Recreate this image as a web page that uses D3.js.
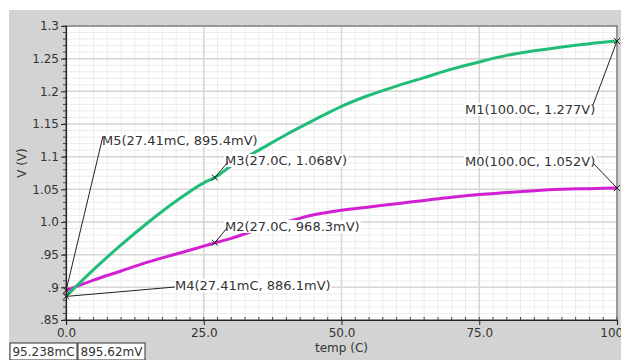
<html>
  <head>
    <title>V vs temp</title>
    <script src="https://d3js.org/d3.v7.min.js"></script>
    <style>
      body { margin: 0; background: #fff; }
      text { font-family: "DejaVu Sans", sans-serif; }
    </style>
  </head>
  <body>
    <script>
      // data
      const temps = [0, 5, 10, 15, 20, 25, 27, 30, 35, 40, 45, 50, 55, 60, 65, 70, 75, 80, 85, 90, 95, 100];
      const vGreen = [0.886, 0.927, 0.965, 1.0, 1.032, 1.06, 1.068, 1.086, 1.110, 1.134, 1.156, 1.177, 1.194, 1.208, 1.221, 1.234, 1.245, 1.255, 1.262, 1.268, 1.273, 1.277];
      const vMagenta = [0.895, 0.911, 0.925, 0.939, 0.951, 0.963, 0.968, 0.975, 0.989, 1.0, 1.011, 1.018, 1.023, 1.028, 1.033, 1.038, 1.042, 1.045, 1.048, 1.050, 1.051, 1.052];
      const xTicks = [0, 25, 50, 75, 100];
      const xTickLabels = ["0.0", "25.0", "50.0", "75.0", "100.0"];
      const yTicks = [0.85, 0.9, 0.95, 1.0, 1.05, 1.1, 1.15, 1.2, 1.25, 1.3];
      const yTickLabels = [".85", ".9", ".95", "1.0", "1.05", "1.1", "1.15", "1.2", "1.25", "1.3"];
      const markerLabels = ["M0(100.0C, 1.052V)", "M1(100.0C, 1.277V)", "M2(27.0C, 968.3mV)", "M3(27.0C, 1.068V)", "M4(27.41mC, 886.1mV)", "M5(27.41mC, 895.4mV)"];
      const markerX = [100, 100, 27, 27, 0.02741, 0.02741];
      const markerY = [1.052, 1.277, 0.9683, 1.068, 0.8861, 0.8954];
      const readouts = ["95.238mC", "895.62mV"];

      // label layout (pixel position of text start / baseline, and where the leader meets it)
      const labelPos = [[465, 166], [465, 114], [225, 231], [225, 165], [175, 290], [102, 145]];
      const leaderEnd = [[593, 163], [593, 105], [227, 228], [228, 162], [175, 287], [103, 136]];

      const w = 621, h = 360;
      const padL = 66, padR = 617, padT = 26, padB = 320;

      const svg = d3.select("body").append("svg").attr("width", w).attr("height", h);

      svg.append("rect").attr("x", 9).attr("y", 10).attr("width", w - 9).attr("height", h - 10).attr("fill", "#d3d3d3");

      const x = d3.scaleLinear().domain([0, 100]).range([padL, padR]);
      const y = d3.scaleLinear().domain([0.85, 1.3]).range([padB, padT]);

      svg.append("rect").attr("x", padL).attr("y", padT).attr("width", padR - padL).attr("height", padB - padT).attr("fill", "#fff");

      // grid
      const xMinor = d3.range(0, 100.01, 2.5);
      const yMinor = d3.range(0, 46).map((i) => 0.85 + i * 0.01);
      const grid = svg.append("g");
      grid.selectAll(".xm").data(xMinor).join("line")
        .attr("x1", (d) => x(d)).attr("x2", (d) => x(d)).attr("y1", padT).attr("y2", padB)
        .attr("stroke", "#ececec");
      grid.selectAll(".ym").data(yMinor).join("line")
        .attr("x1", padL).attr("x2", padR).attr("y1", (d) => y(d)).attr("y2", (d) => y(d))
        .attr("stroke", "#ececec");
      grid.selectAll(".xM").data(xTicks).join("line")
        .attr("x1", (d) => x(d)).attr("x2", (d) => x(d)).attr("y1", padT).attr("y2", padB)
        .attr("stroke", "#d6d6d6").attr("stroke-width", 1.5);
      grid.selectAll(".yM").data(yTicks).join("line")
        .attr("x1", padL).attr("x2", padR).attr("y1", (d) => y(d)).attr("y2", (d) => y(d))
        .attr("stroke", "#d6d6d6").attr("stroke-width", 1.5);

      // frame
      svg.append("rect").attr("x", padL).attr("y", padT).attr("width", padR - padL).attr("height", padB - padT)
        .attr("fill", "none").attr("stroke", "#555");

      // curves
      const line = d3.line().x((d) => x(d[0])).y((d) => y(d[1])).curve(d3.curveMonotoneX);
      svg.append("path").datum(temps.map((t, i) => [t, vMagenta[i]]))
        .attr("d", line).attr("fill", "none").attr("stroke", "#d21fd2").attr("stroke-width", 3);
      svg.append("path").datum(temps.map((t, i) => [t, vGreen[i]]))
        .attr("d", line).attr("fill", "none").attr("stroke", "#1fbd78").attr("stroke-width", 3);

      // axes
      const xAxis = d3.axisBottom(x).tickValues(xTicks).tickFormat((d, i) => xTickLabels[i]).tickSize(5).tickPadding(3);
      const yAxis = d3.axisLeft(y).tickValues(yTicks).tickFormat((d, i) => yTickLabels[i]).tickSize(5).tickPadding(2);
      const gx = svg.append("g").attr("transform", "translate(0," + padB + ")").call(xAxis);
      const gy = svg.append("g").attr("transform", "translate(" + padL + ",0)").call(yAxis);
      [gx, gy].forEach((g) => {
        g.select(".domain").attr("stroke", "#222").attr("stroke-width", 1.2);
        g.selectAll(".tick line").attr("stroke", "#222");
        g.selectAll(".tick text").attr("fill", "#333").attr("font-size", 12).attr("font-family", "DejaVu Sans");
      });
      svg.append("g").selectAll("line").data(xMinor).join("line")
        .attr("x1", (d) => x(d)).attr("x2", (d) => x(d)).attr("y1", padB - 3).attr("y2", padB)
        .attr("stroke", "#444");
      svg.append("g").selectAll("line").data(yMinor).join("line")
        .attr("x1", padL - 3).attr("x2", padL).attr("y1", (d) => y(d)).attr("y2", (d) => y(d))
        .attr("stroke", "#444");

      svg.append("text").attr("x", x(50)).attr("y", 352).attr("text-anchor", "middle")
        .attr("font-size", 12).attr("fill", "#333").text("temp (C)");
      svg.append("text").attr("transform", "translate(26,163) rotate(-90)").attr("text-anchor", "middle")
        .attr("font-size", 12).attr("fill", "#333").text("V (V)");

      // markers
      const mk = svg.append("g");
      markerLabels.forEach((lab, i) => {
        const mx = x(markerX[i]), my = y(markerY[i]);
        const t = mk.append("text").attr("x", labelPos[i][0]).attr("y", labelPos[i][1])
          .attr("font-size", 13).attr("fill", "#333").text(lab);
        const bb = t.node().getBBox();
        mk.insert("rect", "text").attr("x", bb.x - 1).attr("y", bb.y + 1).attr("width", bb.width + 2).attr("height", bb.height - 2)
          .attr("fill", "#fff");
        mk.append("line").attr("x1", mx).attr("y1", my).attr("x2", leaderEnd[i][0]).attr("y2", leaderEnd[i][1])
          .attr("stroke", "#222").attr("stroke-width", 1);
        mk.append("path").attr("d", `M${mx - 3},${my - 3}L${mx + 3},${my + 3}M${mx - 3},${my + 3}L${mx + 3},${my - 3}`)
          .attr("stroke", "#222").attr("stroke-width", 1);
      });

      // readout boxes
      readouts.forEach((r, i) => {
        svg.append("rect").attr("x", 10 + i * 68).attr("y", 343).attr("width", 67).attr("height", 17)
          .attr("fill", "#fff").attr("stroke", "#333");
        svg.append("text").attr("x", 10 + i * 68 + 33.5).attr("y", 356).attr("text-anchor", "middle")
          .attr("font-size", 12).attr("fill", "#333").text(r);
      });
    </script>
  </body>
</html>
